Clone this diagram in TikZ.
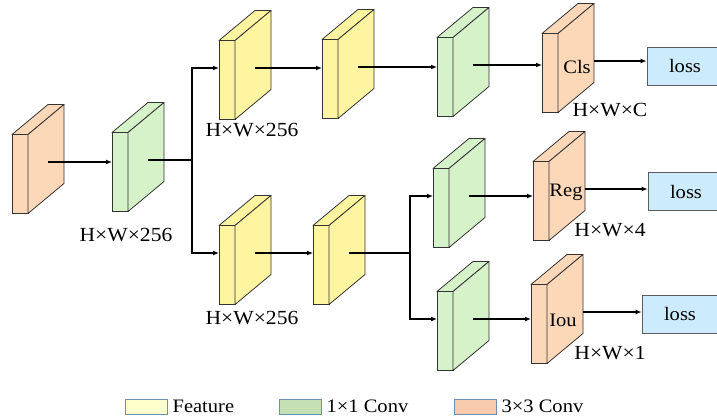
\documentclass[tikz,border=0pt]{standalone}
\usepackage{fontspec}
\setmainfont{LiberationSerif}[Extension=.ttf, UprightFont=*-Regular, BoldFont=*-Bold]
\newfontfamily\diagfont{LiberationSerif}[Extension=.ttf, UprightFont=*-Regular, FakeStretch=1.08]
\usetikzlibrary{arrows.meta,positioning,calc}
\definecolor{featYellow}{HTML}{FFF4A0}
\definecolor{convGreen}{HTML}{D5F2C8}
\definecolor{convOrange}{HTML}{FDD8B8}
\definecolor{lossBlue}{HTML}{CCEBFD}
\definecolor{edgeGray}{HTML}{333333}
\definecolor{legYellow}{HTML}{FFFFCC}
\definecolor{legGreen}{HTML}{C5E0B4}
\definecolor{legOrange}{HTML}{F8CBAD}
\definecolor{legEdge}{HTML}{6D8FB0}

\tikzset{
  front/.style={draw=edgeGray, line width=0.8pt, minimum width=16pt, minimum height=79pt, inner sep=0pt, outer sep=0pt},
  face/.style={draw=edgeGray, line width=0.8pt, line join=round},
  arr/.style={line width=1.2pt, -{Latex[length=6pt,width=5pt]}},
  wire/.style={line width=1.2pt},
  lossbox/.style={draw=edgeGray!80, line width=0.8pt, fill=lossBlue, minimum width=76pt, minimum height=38pt, inner sep=0pt},
  dim/.style={font=\diagfont\fontsize{20}{22}\selectfont},
  legbox/.style={draw=legEdge, line width=0.8pt, minimum width=42pt, minimum height=15pt, inner sep=0pt}
}

% slab: name, front centre, colour
\newcommand{\slab}[3]{%
  \node[front, fill=#3] (#1) at (#2) {};
  \filldraw[face, fill=#3] (#1.north west) -- ++(36,-30) -- ++(16,0) -- (#1.north east) -- cycle;
  \filldraw[face, fill=#3] (#1.north east) -- ++(36,-30) -- ++(0,79) -- (#1.south east) -- cycle;
  \coordinate (#1-i) at ([yshift=12pt]#1.west);
  \coordinate (#1-o) at ([shift={(28,-12)}]#1.center);
  \coordinate (#1-e) at ([shift={(44,-12)}]#1.center);
}

\begin{document}
\begin{tikzpicture}[x=1pt, y=-1pt, every node/.style={font=\diagfont\fontsize{19}{22}\selectfont}]
  \path[use as bounding box, fill=white] (0,0) rectangle (717,420);

  % Backbone
  \slab{b1}{20,174}{convOrange}
  \slab{b2}{120,172}{convGreen}
  \node[dim] (b2-d) at (126,235) {H×W×256};

  % Upper branch (classification)
  \slab{t1}{227,80}{featYellow}
  \slab{t2}{330,79}{featYellow}
  \slab{t3}{445,77}{convGreen}
  \slab{cls}{550,73}{convOrange}
  \node (cls-t) at ([shift={(27,-6)}]cls.center) {Cls};
  \node[dim] (t1-d) at (252,130) {H×W×256};
  \node[dim] (cls-d) at (610,110) {H×W×C};
  \node[lossbox] (loss1) at (685,66) {loss};

  % Lower branch (regression / IoU)
  \slab{u1}{227,265}{featYellow}
  \slab{u2}{321,265}{featYellow}
  \slab{r1}{441,208}{convGreen}
  \slab{reg}{541,201}{convOrange}
  \slab{i1}{445,331}{convGreen}
  \slab{iou}{539,324}{convOrange}
  \node (reg-t) at ([shift={(25,-9)}]reg.center) {Reg};
  \node (iou-t) at ([shift={(24,-4)}]iou.center) {Iou};
  \node[dim] (u1-d) at (252,318) {H×W×256};
  \node[dim] (reg-d) at (610,230) {H×W×4};
  \node[dim] (iou-d) at (610,353) {H×W×1};
  \node[lossbox] (loss2) at (686,191.5) {loss};
  \node[lossbox] (loss3) at (680,314) {loss};

  % Connectors
  \coordinate (s1) at (192,172);
  \coordinate (s2) at (410,265);
  \draw[arr] (b1-o) -- (b1-o -| b2.west);
  \draw[wire] (b2-o) -- (b2-o -| s1);
  \draw[arr] (b2-o -| s1) |- (t1-i);
  \draw[arr] (b2-o -| s1) |- (u1-i);
  \draw[arr] (t1-o) -- (t1-o -| t2.west);
  \draw[arr] (t2-o) -- (t2-o -| t3.west);
  \draw[arr] (t3-o) -- (t3-o -| cls.west);
  \draw[arr] (cls-e) -- (cls-e -| loss1.west);
  \draw[arr] (u1-o) -- (u1-o -| u2.west);
  \draw[wire] (u2-o) -- (u2-o -| s2);
  \draw[arr] (u2-o -| s2) |- (r1-i);
  \draw[arr] (u2-o -| s2) |- (i1-i);
  \draw[arr] (r1-o) -- (r1-o -| reg.west);
  \draw[arr] (reg-e) -- (reg-e -| loss2.west);
  \draw[arr] (i1-o) -- (i1-o -| iou.west);
  \draw[arr] (iou-e) -- (iou-e -| loss3.west);

  % Legend
  \foreach \n/\c/\t/\x in {feat/legYellow/Feature/146, one/legGreen/1×1 Conv/300, three/legOrange/3×3 Conv/475} {
    \node[legbox, fill=\c] (leg-\n) at (\x,406.5) {};
    \node[right=5pt of leg-\n, inner sep=0pt] (leg-\n-t) {\t};
  }
\end{tikzpicture}
\end{document}
